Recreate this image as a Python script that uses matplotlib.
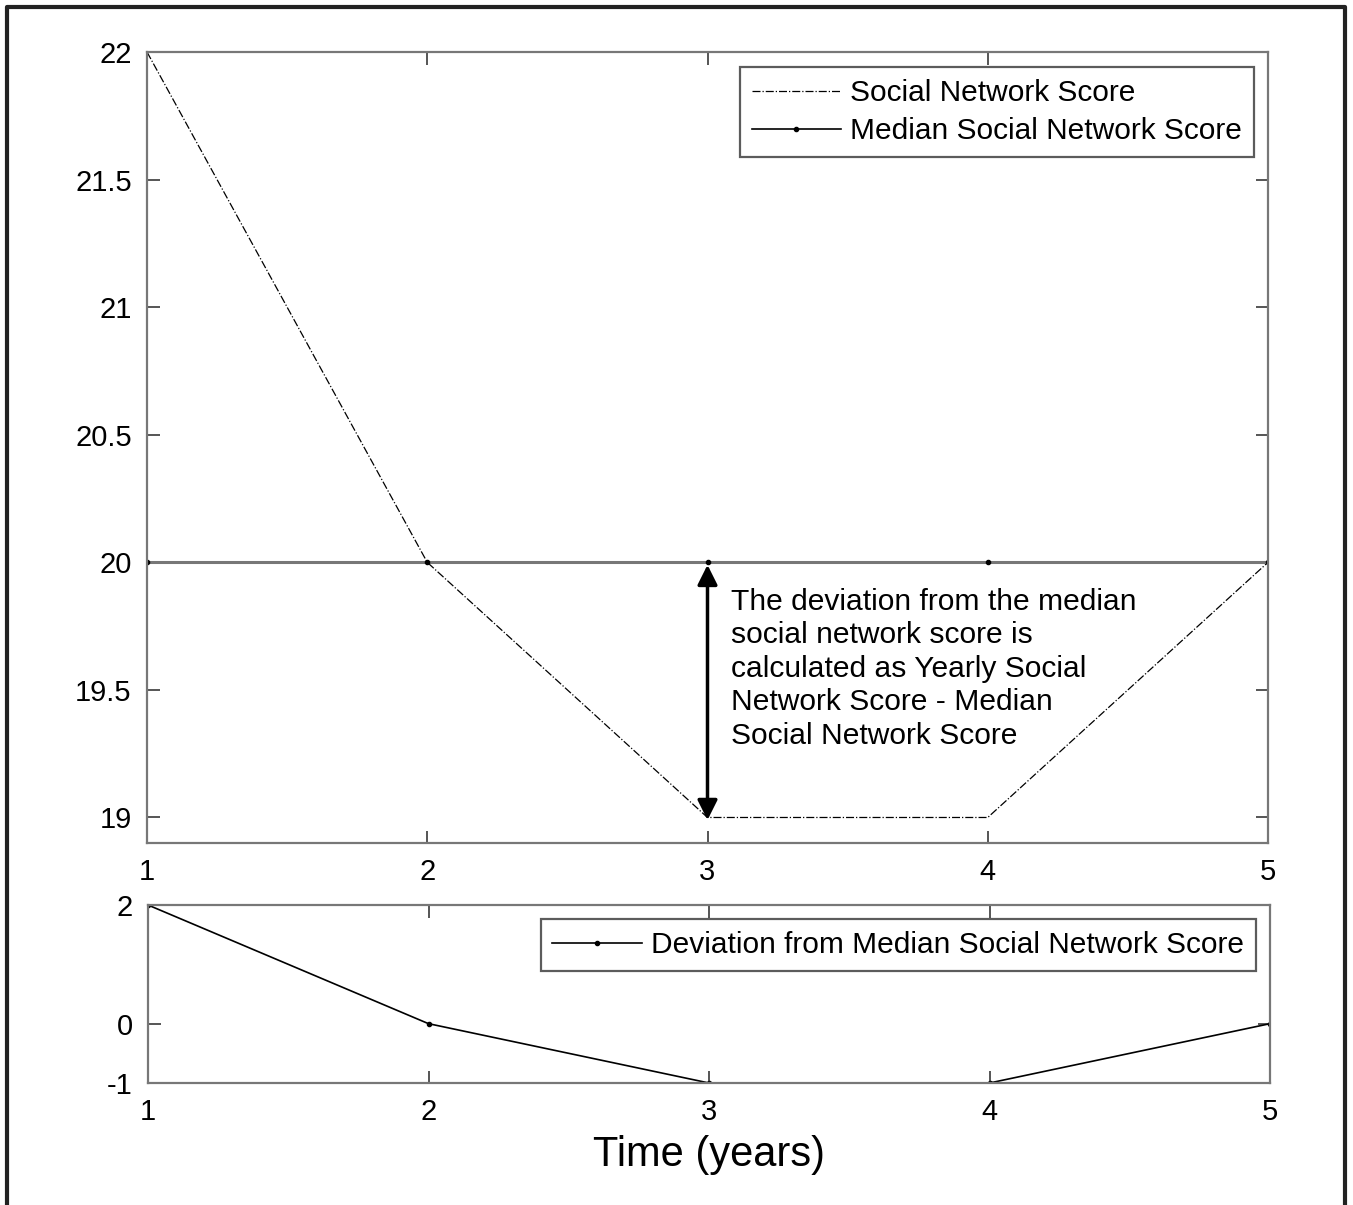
import matplotlib.pyplot as plt
from matplotlib.lines import Line2D

years = [1, 2, 3, 4, 5]
score = [22, 20, 19, 19, 20]
median = [20, 20, 20, 20, 20]
deviation = [2, 0, -1, -1, 0]

plt.rcParams['font.family'] = ['Liberation Sans', 'DejaVu Sans']

fig = plt.figure(figsize=(13.53, 12.05), dpi=100)
W, H = 1353, 1205

# outer frame (left, top, right)
fig.add_artist(Line2D([7 / W, 7 / W, 1345 / W, 1345 / W], [0, 1 - 7 / H, 1 - 7 / H, 0],
                      transform=fig.transFigure, color='#222222', lw=3))

ax1 = fig.add_axes([147 / W, 1 - 843 / H, (1268 - 147) / W, (843 - 52) / H])
ax2 = fig.add_axes([148 / W, 1 - 1083 / H, (1270 - 148) / W, (1083 - 905) / H])

for ax in (ax1, ax2):
    for s in ax.spines.values():
        s.set_color('#777777')
        s.set_linewidth(1.6)
    ax.tick_params(direction='in', top=True, right=True, length=9, width=1.4,
                   color='#555555', labelsize=21, pad=11)
    ax.set_xlim(1, 5)
    ax.set_xticks(years)

ax1.plot(years, score, color='black', ls='-.', lw=0.9, label='Social Network Score')
ax1.plot(years, median, color='#777777', lw=2.2, marker='.', ms=6, mfc='black', mec='black',
         label='Median Social Network Score')
ax1.set_ylim(18.9, 22)
ax1.set_yticks([19, 19.5, 20, 20.5, 21, 21.5, 22])
ax1.set_yticklabels(['19', '19.5', '20', '20.5', '21', '21.5', '22'])
h1 = [Line2D([], [], color='black', ls='-.', lw=0.9),
      Line2D([], [], color='black', lw=1.2, marker='.', ms=6)]
leg1 = ax1.legend(h1, ['Social Network Score', 'Median Social Network Score'],
                  loc='upper right', bbox_to_anchor=(0.9875, 0.981), fontsize=21.5, fancybox=False,
                  handlelength=3.0, handletextpad=0.3, borderpad=0.4, labelspacing=0.35,
                  borderaxespad=0)
leg1.get_frame().set_edgecolor('#333333')
leg1.get_frame().set_linewidth(1.6)

ax1.annotate('', xy=(3, 18.99), xytext=(3, 19.99),
             arrowprops=dict(arrowstyle='<|-|>', color='black', lw=2.5,
                             mutation_scale=30, shrinkA=0, shrinkB=0))
ax1.text(3.085, 19.9, 'The deviation from the median\nsocial network score is\n'
         'calculated as Yearly Social\nNetwork Score - Median\nSocial Network Score',
         fontsize=21.6, va='top', ha='left', linespacing=1.25)

ax2.plot(years, deviation, color='black', lw=1.2, marker='.', ms=6,
         label='Deviation from Median Social Network Score')
ax2.set_ylim(-1, 2)
ax2.set_yticks([-1, 0, 2])
ax2.set_yticklabels(['-1', '0', '2'])
leg2 = ax2.legend(loc='upper right', bbox_to_anchor=(0.9875, 0.92), fontsize=21.5, fancybox=False,
                  handlelength=3.0, handletextpad=0.3, borderpad=0.4, borderaxespad=0)
leg2.get_frame().set_edgecolor('#333333')
leg2.get_frame().set_linewidth(1.6)
ax2.set_xlabel('Time (years)', fontsize=30, labelpad=6)

fig.savefig('out.png', dpi=100)
